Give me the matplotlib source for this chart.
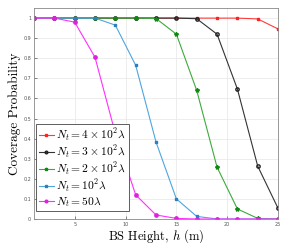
import matplotlib
matplotlib.use("Agg")
import matplotlib.pyplot as plt

plt.rcParams['mathtext.fontset'] = 'cm'
plt.rcParams['axes.formatter.use_mathtext'] = True

h = [1, 3, 5, 7, 9, 11, 13, 15, 17, 19, 21, 23, 25]
p_400 = [1, 1, 1, 1, 1, 1, 1, 1, 1, 1, 1, 0.996, 0.946]
p_300 = [1, 1, 1, 1, 1, 1, 1, 1, 0.997, 0.92, 0.647, 0.263, 0.053]
p_200 = [1, 1, 1, 1, 1, 1, 0.998, 0.92, 0.64, 0.258, 0.05, 0.003, 0.0]
p_100 = [1, 1, 1, 1, 0.965, 0.765, 0.383, 0.10, 0.013, 0.0, 0.0, 0.0, 0.0]
p_50 = [1, 1, 0.98, 0.805, 0.425, 0.12, 0.02, 0.003, 0.0, 0.0, 0.0, 0.0, 0.0]

labels = [r'$N_t = 4\times10^2\lambda$', r'$N_t = 3\times10^2\lambda$',
          r'$N_t = 2\times10^2\lambda$', r'$N_t = 10^2\lambda$', r'$N_t = 50\lambda$']
xticks = [5, 10, 15, 20, 25]
yticks = [0, 0.1, 0.2, 0.3, 0.4, 0.5, 0.6, 0.7, 0.8, 0.9, 1]
ytick_labels = ['0', '0.1', '0.2', '0.3', '0.4', '0.5', '0.6', '0.7', '0.8', '0.9', '1']

fig = plt.figure(figsize=(2.99, 2.43), dpi=100)
ax = fig.add_axes([0.1137, 0.0988, 0.8163, 0.868])

styles = [
    dict(color='#FF3B3B', marker='s', mfc='#FF3B3B', mec='#FF2020', ms=2.0),
    dict(color='#333333', marker='o', mfc='none', mec='#222222', ms=2.4),
    dict(color='#3DAA3D', marker='*', mfc='#118811', mec='#118811', ms=3.0),
    dict(color='#4DA6E0', marker='s', mfc='#2A7FC0', mec='#2A7FC0', ms=1.8),
    dict(color='#FF30FF', marker='o', mfc='#E020E0', mec='#E020E0', ms=2.4),
]
series = [p_400, p_300, p_200, p_100, p_50]
for ys, lab, st in zip(series, labels, styles):
    ax.plot(h, ys, label=lab, lw=0.8, **st)

ax.set_xlim(1, 25)
ax.set_ylim(0, 1.05)
ax.set_xticks(xticks)
ax.set_xticklabels([str(t) for t in xticks])
ax.set_yticks(yticks)
ax.set_yticklabels(ytick_labels)
ax.tick_params(labelsize=3.5, length=2, width=0.5, colors='#555555', direction='in', pad=2)
ax.grid(True, color='#E6E6E6', lw=0.5)
ax.set_axisbelow(True)
for s in ax.spines.values():
    s.set_color('#888888')
    s.set_linewidth(0.6)

ax.set_xlabel(r'BS Height, $h$ (m)', fontsize=9, family='cmr10', labelpad=0)
ax.set_ylabel('Coverage Probability', fontsize=9.5, family='cmr10', labelpad=2)

leg = ax.legend(loc='lower left', bbox_to_anchor=(0.008, 0.036), fontsize=8.3,
                handlelength=1.3, handletextpad=0.2,
                borderpad=0.25, labelspacing=0.02, borderaxespad=0.0, markerscale=0.8,
                fancybox=False, framealpha=1, edgecolor='#444444')
leg.get_frame().set_linewidth(0.6)

fig.savefig('out.png', dpi=100)
